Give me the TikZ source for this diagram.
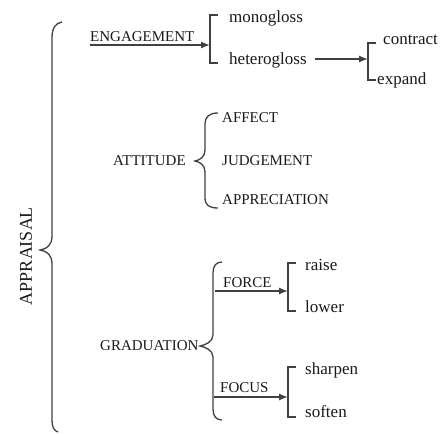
\documentclass[tikz,border=0pt]{standalone}
\usepackage{fontspec}
\setmainfont{Liberation Serif}
\usetikzlibrary{arrows.meta}
\begin{document}
\begin{tikzpicture}[x=1pt,y=-1pt,
  capsty/.style={font=\fontsize{15}{15}\selectfont, inner sep=0pt, anchor=west, text=black!90},
  lowsty/.style={font=\fontsize{17}{17}\selectfont, inner sep=0pt, anchor=west, text=black!90},
  arr/.style={-{Latex[length=9pt,width=7pt]}},
  ln/.style={draw=black!75, line width=1.3pt}]
\useasboundingbox (0,0) rectangle (441,433);
% main brace
\node[rotate=90, font=\fontsize{18}{18}\selectfont, text=black!90, inner sep=0pt] (appr) at (26,256) {APPRAISAL};
\draw[ln] (62,22) .. controls (55,23) and (52,29) .. (52,38) -- (52,236) .. controls (52,245) and (47,249) .. (40,250) .. controls (47,251) and (52,255) .. (52,264) -- (52,420) .. controls (52,427) and (54,431) .. (58,432);
% engagement
\node[capsty] (eng) at (90,37) {ENGAGEMENT};
\coordinate (engb) at (210,45);
\draw[ln,arr] (eng.west |- engb) -- (engb);
\draw[ln] (218,15) -- (210,15) -- (210,63) -- (218,63);
\node[lowsty] (mono) at (229,18) {monogloss};
\node[lowsty] (het) at (229,60) {heterogloss};
\coordinate (hetb) at (368,59);
\draw[ln,arr,shorten <=8pt] (het.east |- hetb) -- (hetb);
\draw[ln] (376,43) -- (368,43) -- (368,80) -- (376,80);
\node[lowsty] (contract) at (383,40) {contract};
\node[lowsty] (expand) at (377,80) {expand};
% attitude
\node[capsty] (att) at (113,161) {ATTITUDE};
\draw[ln] (218,113) .. controls (209,113) and (205,117) .. (205,124) -- (205,150) .. controls (205,157) and (200,160) .. (195,161) .. controls (200,162) and (205,165) .. (205,172) -- (205,198) .. controls (205,205) and (209,208) .. (218,208);
\node[capsty] (affect) at (222,118) {AFFECT};
\node[capsty] (judge) at (222,161) {JUDGEMENT};
\node[capsty] (appre) at (222,200) {APPRECIATION};
% graduation
\node[capsty] (grad) at (100,346) {GRADUATION};
\draw[ln] (222,262) .. controls (216,262) and (213,266) .. (213,273) -- (213,335) .. controls (213,342) and (205,345) .. (200,346) .. controls (205,347) and (213,350) .. (213,357) -- (213,409) .. controls (213,416) and (216,420) .. (222,420);
\node[capsty] (force) at (223,283) {FORCE};
\coordinate (forceb) at (288,291);
\draw[ln,arr] (force.west |- forceb) ++(-8,0) -- (forceb);
\draw[ln] (296,263) -- (288,263) -- (288,311) -- (296,311);
\node[lowsty] (raise) at (305,265) {raise};
\node[lowsty] (lower) at (305,307) {lower};
\node[capsty] (focus) at (220,388) {FOCUS};
\coordinate (focusb) at (288,397);
\draw[ln,arr] (focus.west |- focusb) ++(-6,0) -- (focusb);
\draw[ln] (296,367) -- (288,367) -- (288,417) -- (296,417);
\node[lowsty] (sharpen) at (305,370) {sharpen};
\node[lowsty] (soften) at (305,412) {soften};
\end{tikzpicture}
\end{document}
